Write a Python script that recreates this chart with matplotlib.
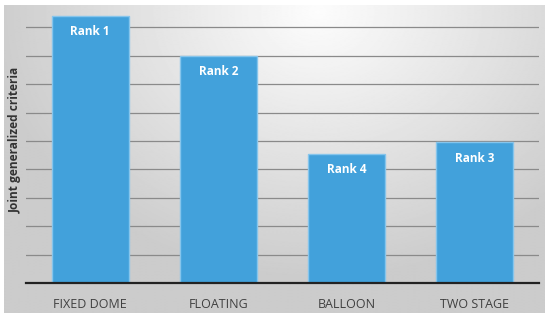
import numpy as np
import matplotlib.pyplot as plt

# chart data
categories = ['FIXED DOME', 'FLOATING', 'BALLOON', 'TWO STAGE']
scores = [9.4, 8.0, 4.55, 4.95]
rank_labels = ['Rank 1', 'Rank 2', 'Rank 4', 'Rank 3']
grid_levels = [1, 2, 3, 4, 5, 6, 7, 8, 9]

plt.rcParams['font.family'] = ['Open Sans', 'DejaVu Sans']

W, H = 550, 320
fig = plt.figure(figsize=(W / 100, H / 100), dpi=100)
fig.patch.set_facecolor('white')

# radial gray gradient behind the chart
bg = fig.add_axes([4 / W, 1 - 313 / H, 541 / W, 308 / H])
yy, xx = np.mgrid[0:1:300j, 0:1:540j]
r = np.sqrt(((xx - 0.58) / 0.7) ** 2 + ((yy - 0.02) / 1.0) ** 2)
shade = np.clip(0.99 - 0.22 * r, 0.8, 0.99)
bg.imshow(shade, cmap='gray', vmin=0, vmax=1, aspect='auto',
          extent=[0, 1, 1, 0], interpolation='bilinear')
bg.axis('off')

ax = fig.add_axes([26 / W, 1 - 283 / H, 513 / W, (283 - 8) / H])
ax.patch.set_alpha(0)

x = np.arange(len(categories))
bars = ax.bar(x, scores, width=0.6, color='#42a1db', edgecolor='#86c5ec',
              linewidth=1, zorder=3)

for b, lab in zip(bars, rank_labels):
    ax.annotate(lab, (b.get_x() + b.get_width() / 2, b.get_height()),
                xytext=(0, -11.5), textcoords='offset points',
                ha='center', va='center', color='white',
                fontsize=8.5, fontweight='bold', zorder=4)

for g in grid_levels:
    ax.axhline(g, color='#8a8a8a', linewidth=0.9, zorder=1)

ax.set_xlim(-0.5, 3.5)
ax.set_ylim(0, 9.68)
ax.set_yticks([])
ax.set_xticks(x)
ax.set_xticklabels(categories, fontsize=9, color='#404040')
ax.tick_params(axis='x', length=0, pad=11)

for side in ['top', 'right', 'left']:
    ax.spines[side].set_visible(False)
ax.spines['bottom'].set_color('#222222')
ax.spines['bottom'].set_linewidth(1.6)
ax.spines['bottom'].set_zorder(5)

ax.set_ylabel('Joint generalized criteria', fontsize=8.6, fontweight='bold',
              color='#333333')
ax.yaxis.set_label_coords(-4 / 513, 0.52)

fig.savefig('out.png', dpi=100)
